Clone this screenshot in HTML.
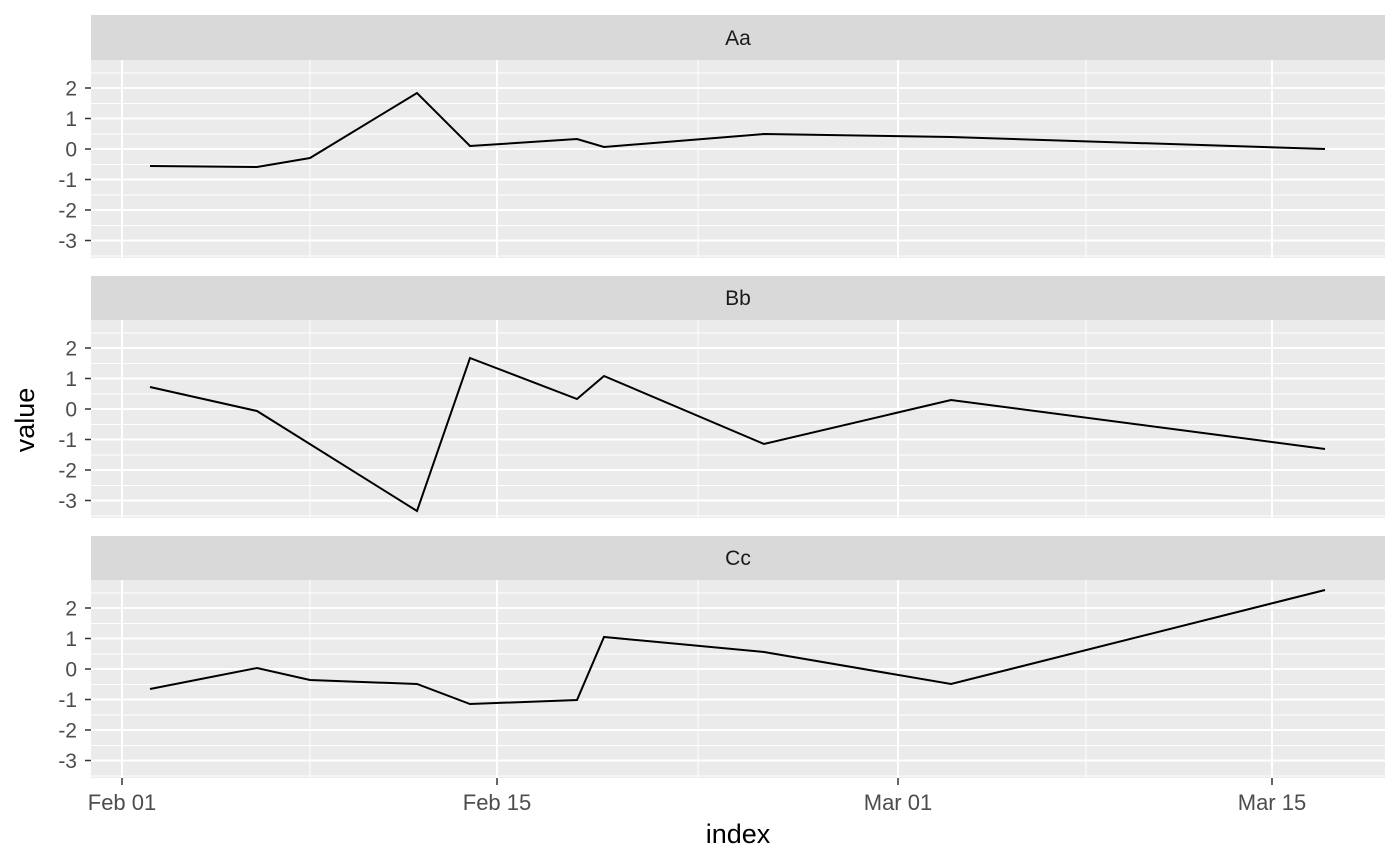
<!DOCTYPE html>
<html><head><meta charset="utf-8"><style>body{margin:0;background:#fff}svg{display:block}</style></head><body>
<svg width="1400" height="866" xmlns="http://www.w3.org/2000/svg" font-family="Liberation Sans, sans-serif">
<defs>
<g id="grid">
<rect x="91" y="0" width="1294" height="198" fill="#EBEBEB"/>
<g stroke="#fff" stroke-width="1">
<line x1="91" x2="1385" y1="13" y2="13"/><line x1="91" x2="1385" y1="43.5" y2="43.5"/><line x1="91" x2="1385" y1="74" y2="74"/><line x1="91" x2="1385" y1="104.5" y2="104.5"/><line x1="91" x2="1385" y1="135" y2="135"/><line x1="91" x2="1385" y1="165.5" y2="165.5"/><line x1="91" x2="1385" y1="196" y2="196"/>
<line x1="310" x2="310" y1="0" y2="198"/><line x1="698" x2="698" y1="0" y2="198"/><line x1="1086" x2="1086" y1="0" y2="198"/>
</g>
<g stroke="#fff" stroke-width="2">
<line x1="91" x2="1385" y1="28" y2="28"/><line x1="91" x2="1385" y1="58.5" y2="58.5"/><line x1="91" x2="1385" y1="89" y2="89"/><line x1="91" x2="1385" y1="119.5" y2="119.5"/><line x1="91" x2="1385" y1="150" y2="150"/><line x1="91" x2="1385" y1="180.5" y2="180.5"/>
<line x1="122" x2="122" y1="0" y2="198"/><line x1="497" x2="497" y1="0" y2="198"/><line x1="898" x2="898" y1="0" y2="198"/><line x1="1272" x2="1272" y1="0" y2="198"/>
</g>
<g stroke="#333" stroke-width="1.5">
<line x1="85" x2="91" y1="28" y2="28"/><line x1="85" x2="91" y1="58.5" y2="58.5"/><line x1="85" x2="91" y1="89" y2="89"/><line x1="85" x2="91" y1="119.5" y2="119.5"/><line x1="85" x2="91" y1="150" y2="150"/><line x1="85" x2="91" y1="180.5" y2="180.5"/>
</g>
<g font-size="21" fill="#4D4D4D" text-anchor="end">
<text x="77" y="35.5">2</text><text x="77" y="66">1</text><text x="77" y="96.5">0</text><text x="77" y="127">-1</text><text x="77" y="157.5">-2</text><text x="77" y="188">-3</text>
</g>
</g>
</defs>
<rect x="91" y="15" width="1294" height="45" fill="#D9D9D9"/>
<text x="738" y="45" font-size="21" fill="#1A1A1A" text-anchor="middle">Aa</text>
<use href="#grid" y="60"/>
<rect x="91" y="276" width="1294" height="44" fill="#D9D9D9"/>
<text x="738" y="305" font-size="21" fill="#1A1A1A" text-anchor="middle">Bb</text>
<use href="#grid" y="320"/>
<rect x="91" y="536" width="1294" height="44" fill="#D9D9D9"/>
<text x="738" y="565" font-size="21" fill="#1A1A1A" text-anchor="middle">Cc</text>
<use href="#grid" y="580"/>
<g fill="none" stroke="#000" stroke-width="2">
<polyline points="150,166 257,167 310,158 417,93 470,146 577,139 604,147 764,134 951,137 1325,149"/>
<polyline points="150,387 257,411 417,511 470,358 577,399 604,376 764,444 951,400 1325,449"/>
<polyline points="150,689 257,668 310,680 417,684 470,704 577,700 604,637 764,652 951,684 1325,590"/>
</g>
<g stroke="#333" stroke-width="1.5">
<line x1="122" x2="122" y1="778" y2="785"/><line x1="497" x2="497" y1="778" y2="785"/><line x1="898" x2="898" y1="778" y2="785"/><line x1="1272" x2="1272" y1="778" y2="785"/>
</g>
<g font-size="22" fill="#4D4D4D" text-anchor="middle">
<text x="122" y="810">Feb 01</text><text x="497" y="810">Feb 15</text><text x="898" y="810">Mar 01</text><text x="1272" y="810">Mar 15</text>
</g>
<text x="738" y="843" font-size="27" fill="#000" text-anchor="middle">index</text>
<text transform="translate(34,420) rotate(-90)" font-size="27" fill="#000" text-anchor="middle">value</text>
</svg>
</body></html>
